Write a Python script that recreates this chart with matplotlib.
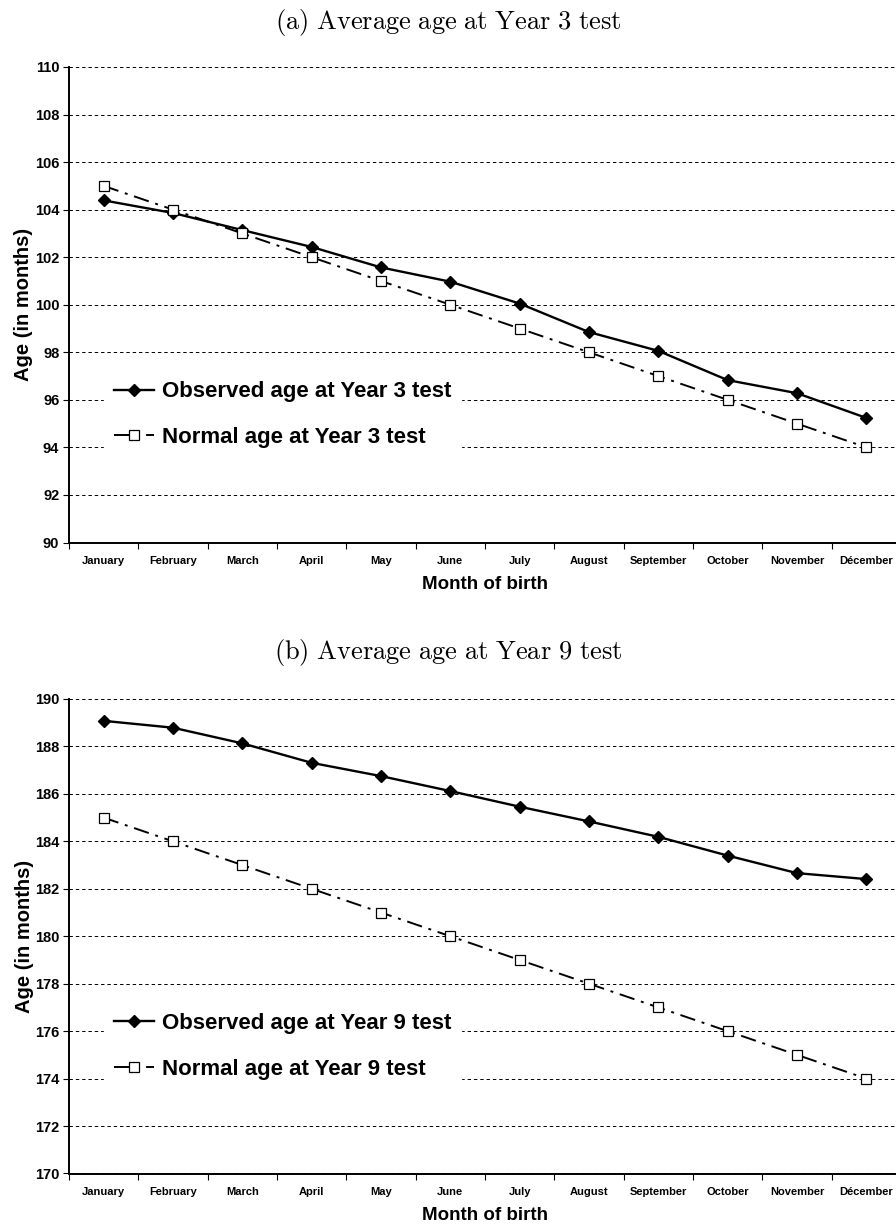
import matplotlib
matplotlib.use("Agg")
import matplotlib.pyplot as plt
from matplotlib.ticker import FixedLocator, NullFormatter

plt.rcParams['font.family'] = ['Liberation Sans', 'DejaVu Sans']
plt.rcParams['mathtext.fontset'] = 'cm'

months = ['January', 'February', 'March', 'April', 'May', 'June', 'July',
          'August', 'September', 'October', 'November', 'Décember']

obs_y3 = [104.39, 103.86, 103.14, 102.43, 101.57, 100.97, 100.05,
          98.85, 98.06, 96.83, 96.28, 95.24]
norm_y3 = [105, 104, 103, 102, 101, 100, 99, 98, 97, 96, 95, 94]

obs_y9 = [189.08, 188.79, 188.13, 187.31, 186.75, 186.12, 185.46,
          184.84, 184.19, 183.40, 182.66, 182.41]
norm_y9 = [185, 184, 183, 182, 181, 180, 179, 178, 177, 176, 175, 174]

W, H = 896, 1227
fig = plt.figure(figsize=(W / 100, H / 100), dpi=100)


def px_axes(left, top, right, bottom):
    return fig.add_axes([left / W, 1 - bottom / H, (right - left) / W, (bottom - top) / H])


def panel(ax, obs, norm, ylo, yhi, year):
    x = list(range(len(months)))
    ax.plot(x, obs, color='black', lw=1.7, marker='D', ms=6,
            label='Observed age at Year %d test' % year, zorder=3)
    ax.plot(x, norm, color='black', lw=1.4, dashes=(8, 3.5, 1.5, 3.5), marker='s', ms=6.5,
            mfc='white', mec='black', mew=0.9,
            label='Normal age at Year %d test' % year, zorder=3)
    ax.set_xlim(-0.5, 11.5)
    ax.set_ylim(ylo, yhi)
    ax.set_yticks(range(ylo, yhi + 1, 2))
    ax.set_xticks(x)
    ax.set_xticklabels(months, fontsize=8, fontweight='bold')
    ax.xaxis.set_minor_locator(FixedLocator([i - 0.5 for i in range(13)]))
    ax.xaxis.set_minor_formatter(NullFormatter())
    ax.tick_params(axis='x', which='major', length=0, pad=10)
    ax.tick_params(axis='x', which='minor', length=4, width=0.8, direction='out')
    ax.tick_params(axis='y', length=4, width=0.8, direction='out', pad=3)
    for lab in ax.get_yticklabels():
        lab.set_fontsize(10.5)
        lab.set_fontweight('bold')
    ax.grid(axis='y', color='black', lw=0.7, ls=(0, (3.5, 3)))
    ax.spines['top'].set_visible(False)
    ax.spines['right'].set_visible(False)
    ax.spines['left'].set_linewidth(1.4)
    ax.spines['bottom'].set_linewidth(1.4)
    ax.set_xlabel('Month of birth', fontsize=13.5, fontweight='bold', labelpad=7)
    ax.set_ylabel('Age (in months)', fontsize=14.5, fontweight='bold', labelpad=1)
    leg = ax.legend(loc='upper left', bbox_to_anchor=(0.042, 0.36), frameon=True,
                    prop={'weight': 'bold', 'size': 16},
                    handlelength=1.8, labelspacing=1.12, borderpad=0.45,
                    handletextpad=0.35, borderaxespad=0, fancybox=False)
    leg.get_frame().set_edgecolor('white')
    leg.get_frame().set_facecolor('white')
    leg.get_frame().set_alpha(1)


ax1 = px_axes(69, 67, 901, 542.5)
panel(ax1, obs_y3, norm_y3, 90, 110, 3)
fig.text(0.5, 1 - 22 / H, r'$\mathrm{(a)\ Average\ age\ at\ Year\ 3\ test}$',
         ha='center', va='center', fontsize=19)

ax2 = px_axes(69, 699, 901, 1173.5)
panel(ax2, obs_y9, norm_y9, 170, 190, 9)
fig.text(0.5, 1 - 652 / H, r'$\mathrm{(b)\ Average\ age\ at\ Year\ 9\ test}$',
         ha='center', va='center', fontsize=19)

fig.savefig('out.png', dpi=100)
